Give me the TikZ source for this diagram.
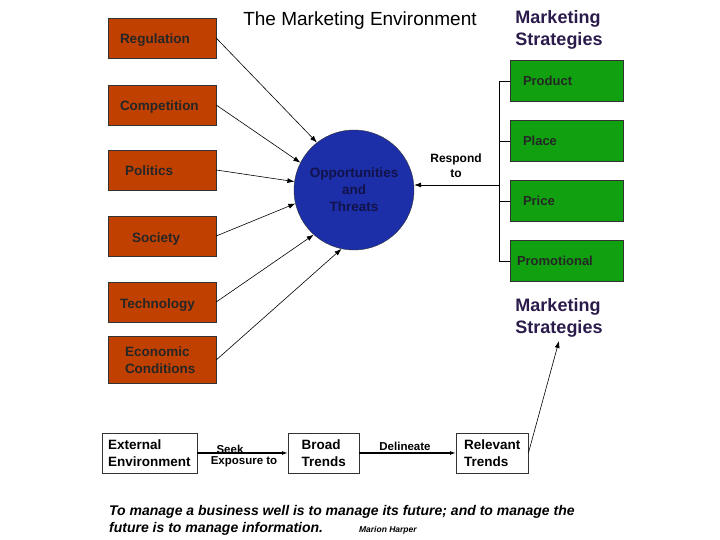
\documentclass[tikz,border=0pt]{standalone}
\usepackage{fontspec}
\setmainfont{Liberation Sans}
\usepackage{tikz}
\usetikzlibrary{arrows.meta, positioning}
\definecolor{cEnv}{HTML}{C04000}
\definecolor{cMix}{HTML}{10A010}
\definecolor{cOpp}{HTML}{1C2FA8}
\definecolor{cNavy}{HTML}{12124A}
\definecolor{cPurple}{HTML}{2B1B4B}

\begin{document}
\begin{tikzpicture}[x=1pt, y=-1pt,
  envbox/.style={draw=black!80, fill=cEnv, text=black!85, font=\fontsize{13.5}{17}\selectfont\bfseries,
    text width=84pt, inner xsep=12pt, align=left, minimum height=40pt},
  oneline/.style={text height=12pt, text depth=0pt},
  mixbox/.style={draw=black!80, fill=cMix, text=black!85, font=\fontsize{13}{17}\selectfont\bfseries,
    text width=87pt, inner xsep=13pt, align=left, minimum height=41pt},
  trendbox/.style={draw=black!80, fill=white, font=\fontsize{13.5}{17}\selectfont\bfseries,
    align=left, minimum height=40pt, inner xsep=6pt, anchor=west},
  lbl/.style={font=\fontsize{12}{15}\selectfont\bfseries, inner sep=0pt},
  arr/.style={-{Latex[length=7pt, width=5pt]}, semithick},
  flow/.style={-{Latex[length=6pt, width=4pt]}, line width=1.6pt},
]
\useasboundingbox (0,0) rectangle (720,540);

% headings
\node[font=\fontsize{19}{22}\selectfont] (title) at (360,21) {The Marketing Environment};
\node[font=\fontsize{18}{22}\selectfont\bfseries, text=cPurple, align=left] (ms1) at (559,30) {Marketing\\Strategies};

% environment forces
\node[envbox, oneline] (reg) at (162,38) {Regulation};
\node[envbox, oneline] (comp) at (162,105) {Competition};
\node[envbox, oneline] (pol) at (162,170) {\hspace*{5pt}Politics};
\node[envbox, oneline] (soc) at (162,236) {\hspace*{12pt}Society};
\node[envbox, oneline] (tech) at (162,302) {Technology};
\node[envbox, minimum height=47pt] (econ) at (162,360) {\hspace*{5pt}Economic\\\hspace*{5pt}Conditions};

% opportunities
\node[circle, draw=black!80, fill=cOpp, text=cNavy, minimum size=120pt, align=center,
  font=\fontsize{13.5}{17}\selectfont\bfseries] (opp) at (354,190) {Opportunities\\and\\Threats};

\draw[arr] (reg.east) -- (opp.128);
\draw[arr] (comp.east) -- (opp.153);
\draw[arr] (pol.east) -- (opp.172);
\draw[arr] (soc.east) -- (opp.193);
\draw[arr] (tech.east) -- (opp.228);
\draw[arr] (econ.east) -- (opp.258);

% marketing mix
\node[mixbox] (prod) at (566.5,81) {Product};
\node[mixbox] (place) at (566.5,141) {Place};
\node[mixbox] (price) at (566.5,201) {Price};
\node[mixbox] (promo) at (566.5,261) {\hspace*{-6pt}Promotional};

\draw[semithick] (prod.west) -- ++(-11,0) |- (promo.west);
\draw[semithick] (place.west) -- ++(-11,0);
\draw[semithick] (price.west) -- ++(-11,0);
\coordinate (resp) at (499,185);
\draw[arr] (resp) -- (resp -| opp.east);
\node[lbl, align=center] (resplbl) at (456,166) {Respond\\to};

\node[font=\fontsize{18}{22}\selectfont\bfseries, text=cPurple, align=left] (ms2) at (559,318) {Marketing\\Strategies};

% scanning chain
\node[trendbox] (ext) at (102,453) {External\\Environment};
\node[trendbox, minimum width=71pt, inner xsep=12pt] (broad) at (288,453) {Broad\\Trends};
\node[trendbox, minimum width=72pt] (rel) at (456,453) {Relevant\\Trends};

\draw[flow] (ext.east) -- (broad.west);
\draw[flow] (broad.east) -- (rel.west);
\node[lbl, font=\fontsize{11.5}{14}\selectfont\bfseries] (seek) at (230,449) {Seek};
\node[lbl, font=\fontsize{11.5}{14}\selectfont\bfseries] (expo) at (244,462) {Exposure to};
\node[lbl, font=\fontsize{11.5}{14}\selectfont\bfseries] (delin) at (405,446) {Delineate};
\draw[arr] (rel.east) -- (ms2.south);

% quote
\node[anchor=north west, align=left, inner sep=0pt, font=\fontsize{14}{17}\selectfont\bfseries\itshape] (quote) at (109,505)
  {To manage a business well is to manage its future; and to manage the\\
   future is to manage information.\hspace{36pt}{\fontsize{8.5}{12}\selectfont Marion Harper}};
\end{tikzpicture}
\end{document}
